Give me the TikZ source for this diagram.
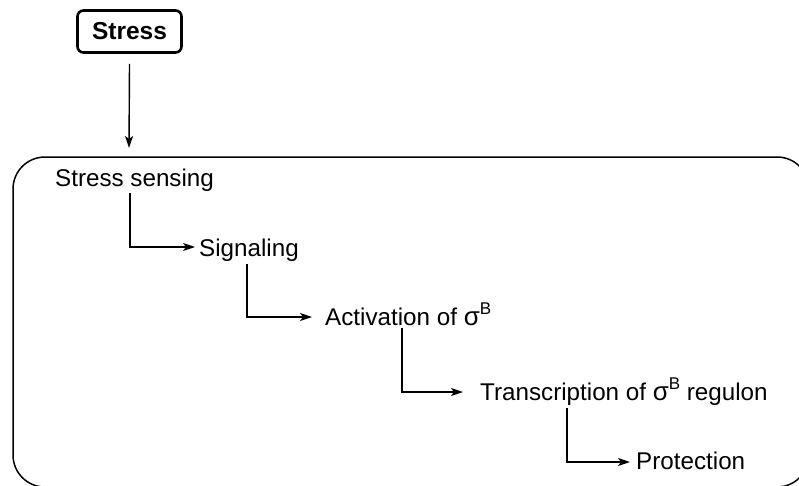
\documentclass[tikz,border=0pt]{standalone}
\usepackage{fontspec}
\setmainfont{Liberation Sans}
\usetikzlibrary{arrows.meta}
\newcommand{\sigB}{{\fontsize{26}{28}\selectfont σ}\raisebox{0.42em}{\fontsize{17}{17}\selectfont B}}
\begin{document}
\begin{tikzpicture}[x=1pt,y=-1pt,
  arr/.style={line width=1.4pt,-{Stealth[length=12pt,width=8pt,inset=3pt]}},
  lbl/.style={anchor=base west,inner sep=0pt,font=\fontsize{24.2}{28}\selectfont}]
\useasboundingbox (0,0) rectangle (799,485);
\begin{scope}
\clip (0,0) rectangle (799,485);
\draw[line width=1.5pt,rounded corners=32pt] (13,157) rectangle (809,487);
\end{scope}
\node[draw,line width=2.6pt,rounded corners=6pt,minimum width=104pt,minimum height=42pt,inner sep=0pt,
  font=\fontsize{24.5}{28}\selectfont\bfseries] (stress) at (129.5,31.5) {Stress};
\coordinate (entry) at (129,148);
\draw[arr] ([yshift=-10pt]stress.south) -- (entry);
\node[lbl] (s1) at (55,186) {Stress sensing};
\node[lbl] (s2) at (199,256) {Signaling};
\node[lbl] (s3) at (325,325) {Activation of \sigB};
\node[lbl] (s4) at (480,400) {Transcription of \sigB{} regulon};
\node[lbl] (s5) at (636,469) {Protection};
\draw[arr] ([xshift=75pt,yshift=-2pt]s1.south west) |- ([xshift=-4pt,yshift=9pt]s2.base west);
\draw[arr] ([xshift=48pt,yshift=-3pt]s2.south west) |- ([xshift=-13pt,yshift=8pt]s3.base west);
\draw[arr] ([xshift=77pt,yshift=-3pt]s3.south west) |- ([xshift=-17pt,yshift=8pt]s4.base west);
\draw[arr] ([xshift=87pt,yshift=-3pt]s4.south west) |- ([xshift=-6pt,yshift=7pt]s5.base west);
\end{tikzpicture}
\end{document}
